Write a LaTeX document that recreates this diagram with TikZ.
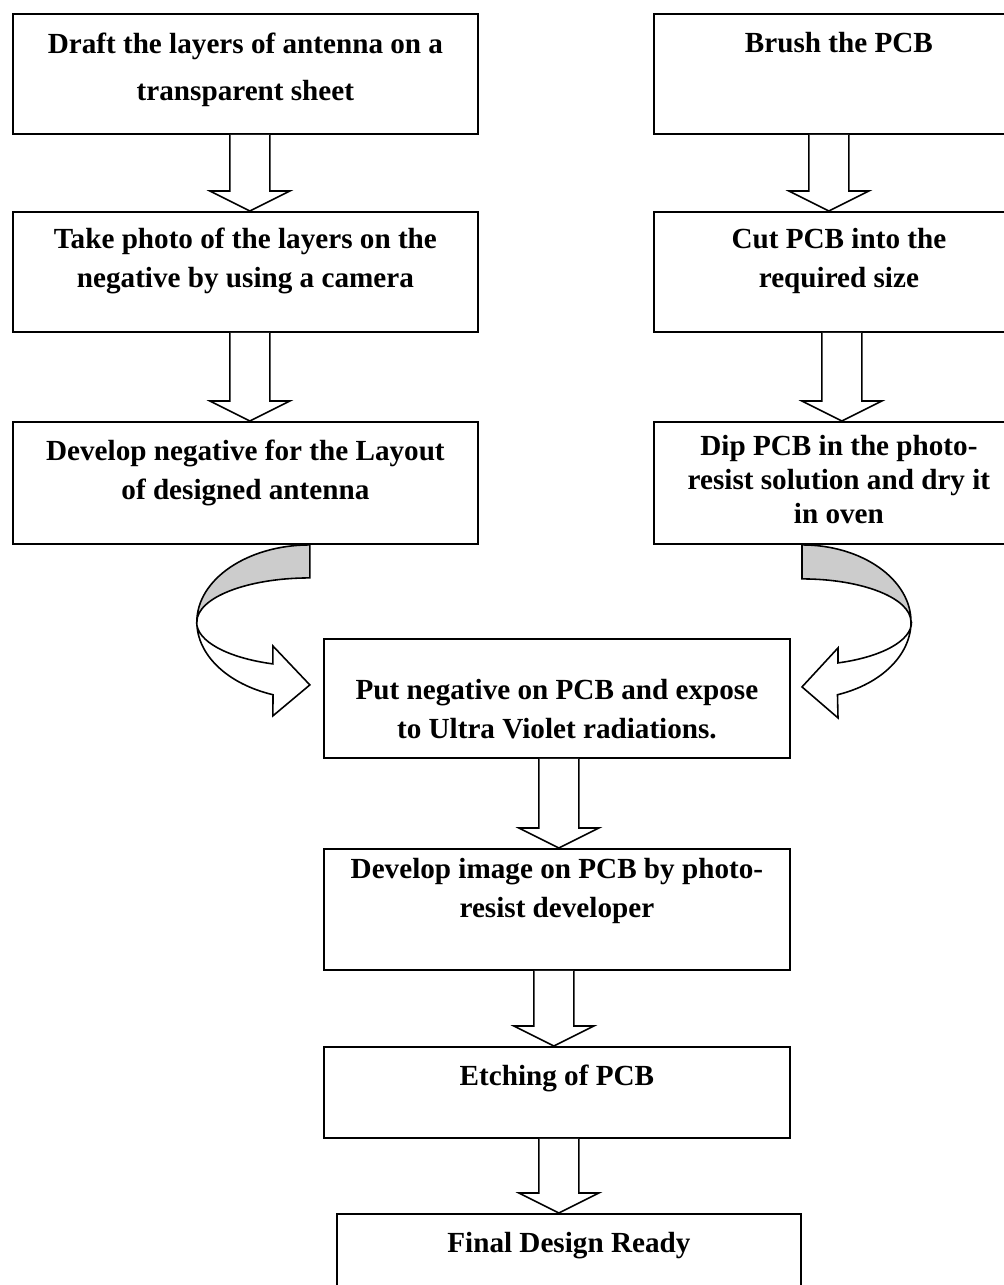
\documentclass[tikz,border=0pt]{standalone}
\usepackage{fontspec}
\setmainfont{Liberation Serif}
\usetikzlibrary{calc}

% hollow block arrow from the bottom of #2 down to the top of #3
\newcommand{\flowarrow}[3][0cm]{%
  \draw[blockarrow] let \p1=($(#2.south)+(#1,0)$), \p2=(#3.north) in
    (\x1-0.4cm,\y1) -- (\x1-0.4cm,\y2+0.4cm) -- (\x1-0.8cm,\y2+0.4cm)
    -- (\x1,\y2) -- (\x1+0.8cm,\y2+0.4cm) -- (\x1+0.4cm,\y2+0.4cm)
    -- (\x1+0.4cm,\y1);
}

\begin{document}
\begin{tikzpicture}[x=0.02cm,y=-0.02cm,
    box/.style={draw,line width=1.1pt,inner sep=0pt,anchor=north west,
                align=flush center,font=\bfseries\fontsize{16.6}{22}\selectfont},
    lbox/.style={box,text width=9.3cm},
    rbox/.style={box,text width=7.4cm},
    cbox/.style={box,text width=9.32cm},
    blockarrow/.style={draw,line width=0.9pt,fill=white},
    ribbon/.style={draw,line width=0.9pt},
  ]
    \useasboundingbox (0,0) rectangle (1004,1285);
    \clip (0,0) rectangle (1004,1285);

    \node[lbox,text height=0.8cm,text depth=1.6cm]   (draft)    at (12,13)
      {Draft the layers of antenna on a\\[4.6pt] transparent sheet};
    \node[lbox,text height=0.74cm,text depth=1.66cm] (photo)    at (12,211)
      {Take photo of the layers on the\\ negative by using a camera};
    \node[lbox,text height=0.78cm,text depth=1.66cm] (negative) at (12,421)
      {Develop negative for the Layout\\ of designed antenna};

    \node[rbox,text height=0.78cm,text depth=1.62cm] (brush) at (653,13)
      {Brush the PCB};
    \node[rbox,text height=0.74cm,text depth=1.66cm] (cut)   at (653,211)
      {Cut PCB into the\\ required size};
    \node[rbox,text height=0.68cm,text depth=1.76cm] (dip)   at (653,421)
      {Dip PCB in the photo-\\[-2.7pt] resist solution and dry it\\[-2.7pt] in oven};

    \node[cbox,text height=1.22cm,text depth=1.16cm] (expose) at (323,638)
      {Put negative on PCB and expose\\ to Ultra Violet radiations.};
    \node[cbox,text height=0.6cm,text depth=1.82cm]  (image)  at (323,848)
      {Develop image on PCB by photo-\\ resist developer};
    \node[cbox,text height=0.78cm,text depth=1.04cm] (etch)   at (323,1046)
      {Etching of PCB};
    \node[box,text width=9.28cm,text height=0.78cm,text depth=0.96cm] (final) at (336,1213)
      {Final Design Ready};

    \flowarrow[0.09cm]{draft}{photo}
    \flowarrow[0.09cm]{photo}{negative}
    \flowarrow[-0.2cm]{brush}{cut}
    \flowarrow[0.06cm]{cut}{dip}
    \flowarrow[0.04cm]{expose}{image}
    \flowarrow[-0.06cm]{image}{etch}
    \flowarrow[0.04cm]{etch}{final}

    % curled arrows feeding the exposure step
    \begin{scope}[shift={(negative.south east)}]
      \draw[ribbon,fill=gray!40] (-169,33) -- (-169,0)
        arc[start angle=270,end angle=180,x radius=113,y radius=77]
        arc[start angle=180,end angle=270,x radius=113,y radius=44] -- cycle;
      \draw[ribbon,fill=white] (-282,77)
        arc[start angle=180,end angle=109,x radius=113,y radius=77]
        -- (-206,171) -- (-169,140) -- (-206,101) -- (-206,119)
        arc[start angle=109,end angle=180,x radius=113,y radius=44] -- cycle;
    \end{scope}
    \begin{scope}[shift={(dip.south west)}]
      \draw[ribbon,fill=gray!40] (149,34) -- (149,0)
        arc[start angle=270,end angle=360,x radius=109,y radius=77]
        arc[start angle=0,end angle=-90,x radius=109,y radius=43] -- cycle;
      \draw[ribbon,fill=white] (258,77)
        arc[start angle=0,end angle=71,x radius=109,y radius=77]
        -- (185,173) -- (149,142) -- (185,103) -- (185,118)
        arc[start angle=71,end angle=0,x radius=109,y radius=43] -- cycle;
    \end{scope}
  \end{tikzpicture}
\end{document}
